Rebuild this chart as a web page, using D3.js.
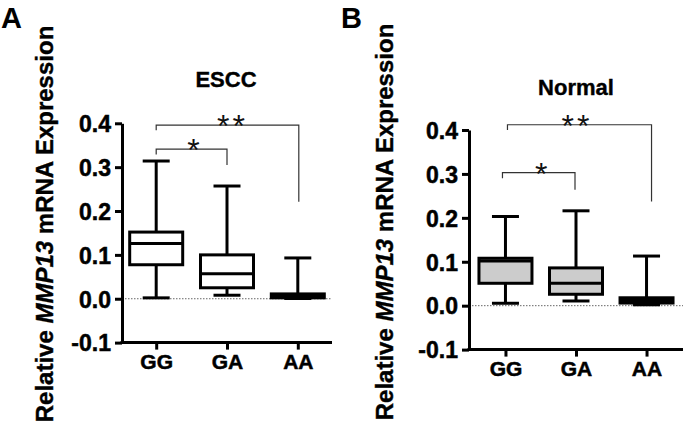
<!DOCTYPE html>
<html>
<head>
<meta charset="utf-8">
<script src="https://cdn.jsdelivr.net/npm/d3@7"></script>
<style>
  html, body { margin: 0; padding: 0; background: #fff; }
  svg { display: block; }
  text { font-family: "Liberation Sans", Arial, sans-serif; }
</style>
</head>
<body>
<svg id="chart" width="685" height="432"></svg>
<script>
// ---------- data ----------
const categories = ["GG", "GA", "AA"];
const yTicks = [-0.1, 0.0, 0.1, 0.2, 0.3, 0.4];

// Panel A: ESCC
const esccMin    = [0.002, 0.008, 0.0005];
const esccQ1     = [0.0775, 0.025, 0.002];
const esccMedian = [0.126, 0.057, 0.005];
const esccQ3     = [0.152, 0.100, 0.011];
const esccMax    = [0.314, 0.257, 0.093];

// Panel B: Normal
const normalMin    = [0.0055, 0.0107, 0.002];
const normalQ1     = [0.051, 0.026, 0.006];
const normalMedian = [0.1015, 0.051, 0.012];
const normalQ3     = [0.108, 0.086, 0.018];
const normalMax    = [0.203, 0.216, 0.113];

// significance comparisons: [from, to, label]
const sigPairs = [["GG", "GA", "*"], ["GG", "AA", "**"]];
// bracket levels (data units): [bar, leftEnd, rightEnd]
const esccBracketLevels   = [[0.341, 0.329, 0.305], [0.396, 0.384, 0.221]];
const normalBracketLevels = [[0.303, 0.290, 0.264], [0.412, 0.400, 0.237]];

// ---------- drawing ----------
const svg = d3.select("#chart");
const FONT = "Liberation Sans, Arial, sans-serif";

function heavy(sel, w) {
  sel.attr("stroke", "#000").attr("stroke-width", w).attr("paint-order", "stroke");
}

function drawPanel(o) {
  const g = svg.append("g");
  const y = d3.scaleLinear().domain([-0.1, 0.4]).range([o.bottom, o.top]);
  const x = d3.scalePoint().domain(categories).range([o.left, o.right]).padding(o.pad);

  // zero dotted line
  g.append("line")
    .attr("x1", o.left).attr("x2", o.right)
    .attr("y1", y(0)).attr("y2", y(0))
    .attr("stroke", "#666").attr("stroke-width", 1)
    .attr("stroke-dasharray", "1.5,1.5");

  // y axis
  const ya = g.append("g").attr("transform", `translate(${o.left},0)`)
    .call(d3.axisLeft(y).tickValues(yTicks).tickFormat(d => d.toFixed(1))
      .tickSize(7).tickSizeOuter(0).tickPadding(4));
  ya.selectAll("path, line").attr("stroke", "#000").attr("stroke-width", 3);
  const yt = ya.selectAll("text").attr("font-size", 23).attr("font-weight", "bold")
    .attr("fill", "#000").attr("font-family", FONT).attr("dy", "0.36em");
  heavy(yt, 0.5);

  // x axis
  const xa = g.append("g").attr("transform", `translate(0,${o.bottom})`)
    .call(d3.axisBottom(x).tickSize(7).tickSizeOuter(0).tickPadding(6));
  xa.select(".domain").attr("d", `M${o.left - 1.5},0H${o.right}`);
  xa.selectAll("path, line").attr("stroke", "#000").attr("stroke-width", 3);
  const xt = xa.selectAll("text").attr("font-size", 21).attr("font-weight", "bold")
    .attr("fill", "#000").attr("font-family", FONT)
    .attr("dy", "0.64em");
  heavy(xt, 0.5);

  // box plots
  const bw = 53, cw = 25;
  categories.forEach((c, i) => {
    const cx = x(c);
    const b = g.append("g").attr("stroke", "#000").attr("stroke-width", 3);
    // whiskers
    b.append("line").attr("x1", cx).attr("x2", cx).attr("y1", y(o.max[i])).attr("y2", y(o.q3[i]));
    b.append("line").attr("x1", cx).attr("x2", cx).attr("y1", y(o.q1[i])).attr("y2", y(o.min[i]));
    b.append("line").attr("x1", cx - cw / 2 - 1).attr("x2", cx + cw / 2 + 1).attr("y1", y(o.max[i])).attr("y2", y(o.max[i]));
    b.append("line").attr("x1", cx - cw / 2 - 1).attr("x2", cx + cw / 2 + 1).attr("y1", y(o.min[i])).attr("y2", y(o.min[i]));
    // box
    b.append("rect").attr("x", cx - bw / 2).attr("width", bw)
      .attr("y", y(o.q3[i])).attr("height", y(o.q1[i]) - y(o.q3[i]))
      .attr("fill", o.fill);
    // median
    b.append("line").attr("x1", cx - bw / 2).attr("x2", cx + bw / 2)
      .attr("y1", y(o.median[i])).attr("y2", y(o.median[i]));
  });

  // significance brackets
  sigPairs.forEach((p, k) => {
    const [a, bb, lab] = p;
    const lv = o.levels[k];
    const xl = x(a) + o.bracketDx[k][0], xr = x(bb) + o.bracketDx[k][1];
    g.append("path")
      .attr("d", `M${xl},${y(lv[1])}V${y(lv[0])}H${xr}V${y(lv[2])}`)
      .attr("fill", "none").attr("stroke", "#333").attr("stroke-width", 1.2);
    g.append("text")
      .attr("x", (xl + xr) / 2 + o.starDx[k]).attr("y", y(lv[0]) + 12)
      .attr("text-anchor", "middle").attr("font-size", 32)
      .attr("letter-spacing", 3)
      .attr("fill", "#111").text(lab);
  });

  // title
  const t = svg.append("text").attr("x", o.titleX).attr("y", o.titleY)
    .attr("text-anchor", "middle").attr("font-size", 22).attr("font-weight", "bold")
    .text(o.title);
  heavy(t, 0.4);

  // y label
  const yl = svg.append("text")
    .attr("transform", `translate(${o.ylabX},${o.ylabY}) rotate(-90)`)
    .attr("text-anchor", "middle").attr("font-size", 24).attr("font-weight", "bold");
  yl.append("tspan").text("Relative ");
  yl.append("tspan").attr("font-style", "italic").text("MMP13");
  yl.append("tspan").text(" mRNA Expression");
  heavy(yl, 0.4);

  // panel letter
  svg.append("text").attr("x", o.letterX).attr("y", o.letterY)
    .attr("font-size", 29).attr("font-weight", "bold").text(o.letter);
}

drawPanel({
  letter: "A", letterX: 1, letterY: 28,
  title: "ESCC", titleX: 226, titleY: 87,
  ylabX: 52.5, ylabY: 224,
  left: 122, right: 332, pad: 0.483, top: 123.3, bottom: 342.6,
  min: esccMin, q1: esccQ1, median: esccMedian, q3: esccQ3, max: esccMax,
  fill: "#ffffff", levels: esccBracketLevels,
  bracketDx: [[0, 0], [0, 1]], starDx: [3.5, 5]
});

drawPanel({
  letter: "B", letterX: 341, letterY: 28,
  title: "Normal", titleX: 576, titleY: 95,
  ylabX: 393, ylabY: 222,
  left: 469, right: 683, pad: 0.517, top: 130, bottom: 349.6,
  min: normalMin, q1: normalQ1, median: normalMedian, q3: normalQ3, max: normalMax,
  fill: "#cccccc", levels: normalBracketLevels,
  bracketDx: [[-3, -1], [2, 5]], starDx: [4, -2.5]
});
</script>
</body>
</html>
